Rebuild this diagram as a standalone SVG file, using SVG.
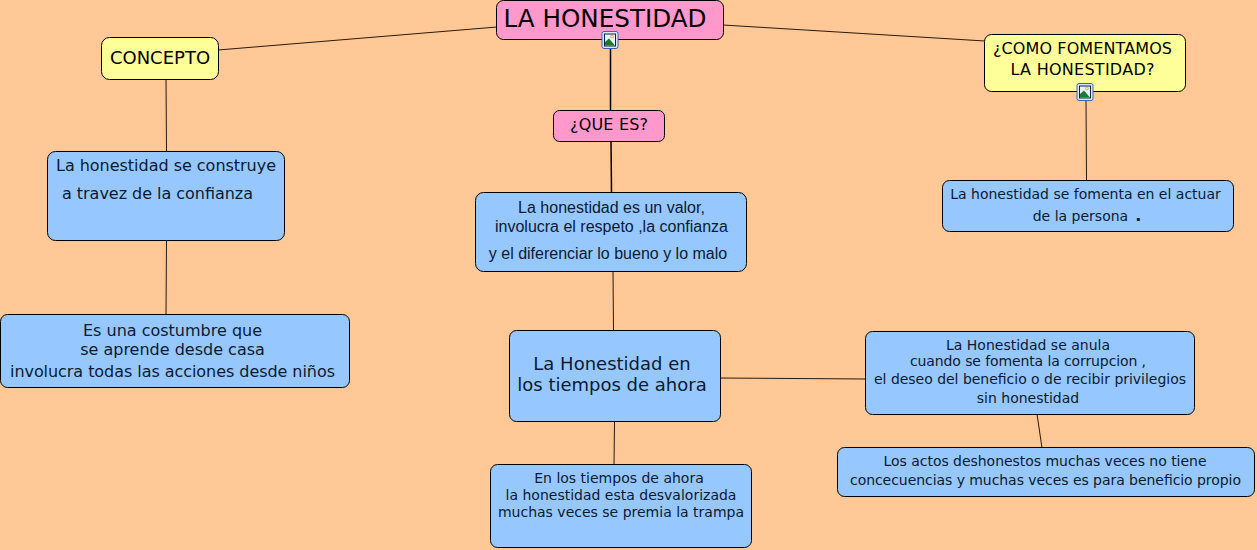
<svg xmlns="http://www.w3.org/2000/svg" width="1257" height="550" viewBox="0 0 1257 550">
<style>
.n{stroke:#000;stroke-width:1}
.p{fill:#ff99cc}.y{fill:#ffff99}.b{fill:#96c8ff}
text{font-family:"DejaVu Sans",Verdana,sans-serif;text-anchor:middle;fill:#000}
.d{fill:#0b1a33}
.a{font-family:"Liberation Sans",Arial,sans-serif}
#connectors line{stroke:#2a1a08;stroke-width:1}
#connectors line.h{stroke:#000;stroke-width:1.500}
</style>
<defs>
<g id="icon">
<rect x="-8" y="-8.500" width="16" height="17" rx="2" fill="#dfe8fb" stroke="#3a62b5" stroke-width="1"/>
<rect x="-5.500" y="-6" width="11" height="12" fill="#e8f2ff" stroke="#10204a" stroke-width="1"/>
<polygon points="-5,5.500 -5,2 -1,-1.500 5,5.500" fill="#1c7a2c"/>
<circle cx="2" cy="-3.500" r="1.500" fill="#ffe680" stroke="#b08a20" stroke-width=".5"/>
</g>
</defs>
<rect width="1257" height="550" fill="#ffc896"/>
<g id="connectors">
<line x1="218" y1="50" x2="497" y2="27"/>
<line x1="723" y1="25" x2="985" y2="41"/>
<line class="h" x1="610.500" y1="48" x2="610.500" y2="111"/>
<line class="h" x1="611" y1="141" x2="611.500" y2="193"/>
<line x1="166" y1="79" x2="166.500" y2="152"/>
<line x1="166.500" y1="240" x2="166" y2="315"/>
<line x1="1086" y1="100" x2="1086.500" y2="181"/>
<line x1="613" y1="271" x2="613.500" y2="331"/>
<line x1="614.500" y1="421" x2="614" y2="465"/>
<line x1="720" y1="378" x2="866" y2="379"/>
<line x1="1037" y1="414" x2="1042" y2="448"/>
</g>
<g id="n1"><rect class="n p" x="496.500" y="0.500" width="227" height="39" rx="7"/><text x="605" y="27" font-size="24" textLength="203" lengthAdjust="spacingAndGlyphs">LA HONESTIDAD</text></g>
<g id="n1-icon"><use href="#icon" x="610" y="40"/></g>
<g id="n2"><rect class="n y" x="101.500" y="37.500" width="117" height="42" rx="8"/><text x="160" y="64" font-size="18">CONCEPTO</text></g>
<g id="n3"><rect class="n y" x="984.500" y="34.500" width="201" height="57" rx="7"/><text x="1082.500" y="54" font-size="16" textLength="179">¿COMO FOMENTAMOS</text><text x="1082.500" y="75" font-size="16" textLength="144">LA HONESTIDAD?</text></g>
<g id="n3-icon"><use href="#icon" x="1085" y="92"/></g>
<g id="n4"><rect class="n p" x="553.500" y="110.500" width="111" height="31" rx="6"/><text x="609" y="130" font-size="16" textLength="78">¿QUE ES?</text></g>
<g id="n5"><rect class="n b" x="47.500" y="151.500" width="237" height="89" rx="8"/><text class="d" x="166" y="171" font-size="16" textLength="220">La honestidad se construye</text><text class="d" x="157.500" y="199" font-size="16" textLength="191">a travez de la confianza</text></g>
<g id="n6"><rect class="n b" x="475.500" y="192.500" width="271" height="79" rx="8"/><text class="d a" x="611.500" y="213" font-size="16">La honestidad es un valor,</text><text class="d a" x="611.500" y="232" font-size="16">involucra el respeto ,la confianza</text><text class="d a" x="608" y="259" font-size="16">y el diferenciar lo bueno y lo malo</text></g>
<g id="n7"><rect class="n b" x="942.500" y="180.500" width="291" height="51" rx="7"/><text class="d" x="1085.500" y="199" font-size="14">La honestidad se fomenta en el actuar</text><text class="d" x="1087" y="221" font-size="14">de la persona<tspan dx="7" font-weight="bold" font-size="16">.</tspan></text></g>
<g id="n8"><rect class="n b" x="0.500" y="314.500" width="349" height="73" rx="7"/><text class="d" x="172.500" y="336" font-size="16">Es una costumbre que</text><text class="d" x="172.500" y="355" font-size="16">se aprende desde casa</text><text class="d" x="172.500" y="377" font-size="16" textLength="325">involucra todas las acciones desde niños</text></g>
<g id="n9"><rect class="n b" x="509.500" y="330.500" width="211" height="91" rx="7"/><text class="d" x="612" y="370" font-size="18">La Honestidad en</text><text class="d" x="612" y="391" font-size="18">los tiempos de ahora</text></g>
<g id="n10"><rect class="n b" x="865.500" y="331.500" width="329" height="83" rx="7"/><text class="d" x="1028" y="350" font-size="14" textLength="164">La Honestidad se anula</text><text class="d" x="1028" y="366" font-size="14" textLength="236">cuando se fomenta la corrupcion ,</text><text class="d" x="1030" y="384" font-size="14" textLength="312">el deseo del beneficio o de recibir privilegios</text><text class="d" x="1028" y="403" font-size="14">sin honestidad</text></g>
<g id="n11"><rect class="n b" x="837.500" y="447.500" width="417" height="49" rx="7"/><text class="d" x="1045" y="466" font-size="14" textLength="323">Los actos deshonestos muchas veces no tiene</text><text class="d" x="1045.500" y="485" font-size="14" textLength="391">concecuencias y muchas veces es para beneficio propio</text></g>
<g id="n12"><rect class="n b" x="490.500" y="464.500" width="261" height="83" rx="7"/><text class="d" x="619" y="483" font-size="14">En los tiempos de ahora</text><text class="d" x="621" y="500" font-size="14">la honestidad esta desvalorizada</text><text class="d" x="621" y="517" font-size="14">muchas veces se premia la trampa</text></g>
</svg>
